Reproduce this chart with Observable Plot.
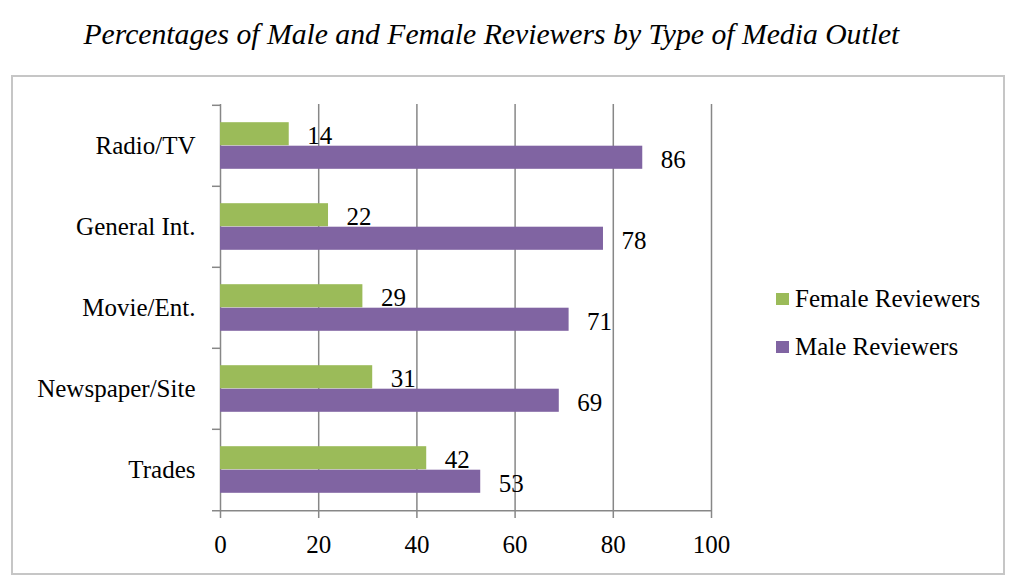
<!DOCTYPE html>
<html>
<head>
<meta charset="utf-8">
<script src="https://cdn.jsdelivr.net/npm/d3@7"></script>
<script src="https://cdn.jsdelivr.net/npm/@observablehq/plot@0.6"></script>
<style>
  html, body { margin: 0; padding: 0; background: #fff; }
  #wrap { position: relative; width: 1024px; height: 588px; overflow: hidden; font-family: "Liberation Serif", serif; }
  #title { position: absolute; left: 0; top: 14px; width: 982px; text-align: center; font-style: italic; font-size: 30px; line-height: 40px; color: #000; white-space: nowrap; }
  #title span { display: inline-block; transform-origin: center; }
  #chart { position: absolute; left: 0; top: 75px; }
  #border { position: absolute; left: 11px; top: 75px; width: 994px; height: 500px; box-sizing: border-box; border: 2px solid #c6c6c6; pointer-events: none; }
  #legend { position: absolute; left: 776px; top: 282px; font-size: 25px; color: #000; }
  .row { display: flex; align-items: center; height: 34px; margin-bottom: 14px; }
  .sw { width: 13px; height: 12px; margin-right: 6px; }
</style>
</head>
<body>
<div id="wrap">
  <div id="title"><span id="titleText"></span></div>
  <div id="chart"></div>
  <div id="border"></div>
  <div id="legend"></div>
</div>
<script>
const titleText = "Percentages of Male and Female Reviewers by Type of Media Outlet";
const categories = ["Radio/TV", "General Int.", "Movie/Ent.", "Newspaper/Site", "Trades"];
const femaleValues = [14, 22, 29, 31, 42];
const maleValues = [86, 78, 71, 69, 53];
const seriesNames = ["Female Reviewers", "Male Reviewers"];
const seriesColors = ["#9bbb59", "#8064a2"];
const xTicks = [0, 20, 40, 60, 80, 100];

const female = categories.map((c, i) => ({category: c, value: femaleValues[i]}));
const male = categories.map((c, i) => ({category: c, value: maleValues[i]}));

const W = 1024, H = 513, mt = 29, mb = 77, ml = 220, mr = 313;
const bw = (H - mt - mb) / categories.length;
const t = 23.5;                 // bar thickness
const pad = (bw - 2 * t) / 2;   // space above/below the bar pair
const font = "Liberation Serif";
const fs = 25;

const chart = Plot.plot({
  width: W, height: H,
  marginTop: mt, marginBottom: mb, marginLeft: ml, marginRight: mr,
  style: {fontFamily: font, fontSize: fs + "px", color: "#000", background: "transparent", overflow: "visible"},
  x: {domain: [0, 100], ticks: xTicks},
  y: {type: "band", domain: categories, padding: 0},
  marks: [
    Plot.gridX(xTicks.slice(1), {stroke: "#878787", strokeOpacity: 1, strokeWidth: 1.5}),
    Plot.ruleX([0], {stroke: "#878787", strokeWidth: 1.5}),
    Plot.ruleY(categories, {y: d => d, dy: -bw / 2, x1: 0, x2: 0, insetLeft: -8, stroke: "#878787", strokeWidth: 1.5}),
    Plot.ruleY(categories.slice(-1), {y: d => d, dy: bw / 2, x1: 0, x2: 100, insetLeft: -8, stroke: "#878787", strokeWidth: 1.5}),
    Plot.barX(female, {x: "value", y: "category", fill: seriesColors[0], insetTop: pad, insetBottom: pad + t}),
    Plot.barX(male, {x: "value", y: "category", fill: seriesColors[1], insetTop: pad + t, insetBottom: pad}),
    Plot.text(female, {x: "value", y: "category", text: d => String(d.value), dx: 18, dy: -t / 2 + 2, textAnchor: "start", fill: "#000", fontSize: fs}),
    Plot.text(male, {x: "value", y: "category", text: d => String(d.value), dx: 18, dy: t / 2 + 2, textAnchor: "start", fill: "#000", fontSize: fs}),
    Plot.axisX({ticks: xTicks, tickSize: 7, tickPadding: 17, stroke: "#878787", strokeWidth: 1.5, label: null, fontSize: fs, fill: "#000"}),
    Plot.axisY({tickSize: 0, tickPadding: 25, label: null, fontSize: fs, fill: "#000"})
  ]
});
document.getElementById("chart").appendChild(chart);

// title
const tt = document.getElementById("titleText");
tt.textContent = titleText;
const targetW = 816;
const w = tt.getBoundingClientRect().width;
tt.style.transform = `scaleX(${targetW / w})`;

// legend
const legend = document.getElementById("legend");
seriesNames.forEach((name, i) => {
  const row = document.createElement("div");
  row.className = "row";
  const sw = document.createElement("div");
  sw.className = "sw";
  sw.style.background = seriesColors[i];
  const lab = document.createElement("span");
  lab.textContent = name;
  row.appendChild(sw);
  row.appendChild(lab);
  legend.appendChild(row);
});
</script>
</body>
</html>
